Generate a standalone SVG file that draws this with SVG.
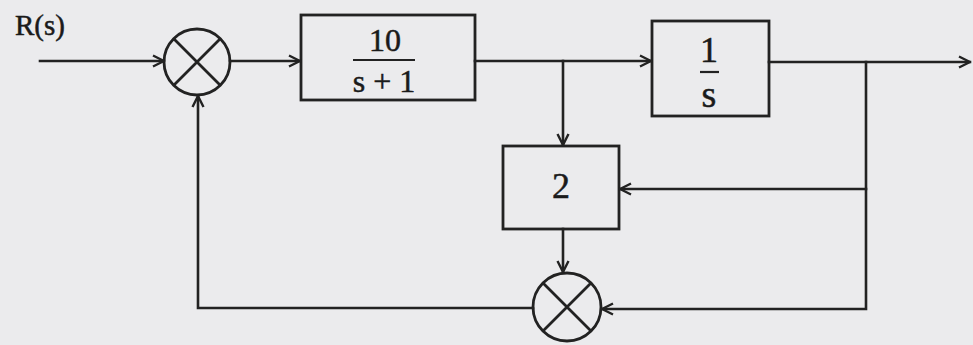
<svg xmlns="http://www.w3.org/2000/svg" width="973" height="345" viewBox="0 0 973 345">
<defs>
<style>
.ln{fill:none;stroke:#222;stroke-width:2.6;stroke-linecap:square}
.bx{fill:none;stroke:#222;stroke-width:2.8}
.sj{fill:none;stroke:#222;stroke-width:2.8}
.t{font-family:"Liberation Serif","Times New Roman",serif;fill:#1a1a1a;stroke:#1a1a1a;stroke-width:0.5;text-anchor:middle}
</style>
<marker id="ar" viewBox="0 0 14 14" refX="13" refY="7" markerWidth="14" markerHeight="14" markerUnits="userSpaceOnUse" orient="auto">
<path d="M2,1.5 L13,7 L2,12.5" fill="none" stroke="#222" stroke-width="2.4"/>
</marker>
</defs>
<rect width="973" height="345" fill="#ebebed"/>
<text class="t" x="40" y="35" font-size="29">R(s)</text>
<g id="sum1">
<circle class="sj" cx="197" cy="62" r="33"/>
<path class="sj" d="M174,39 L220,85 M220,39 L174,85"/>
</g>
<g id="g1">
<rect class="bx" x="301" y="15" width="174" height="85"/>
<text class="t" x="385" y="51" font-size="32">10</text>
<line x1="353" y1="60" x2="415" y2="60" stroke="#222" stroke-width="2.2"/>
<text class="t" x="384" y="92" font-size="32">s + 1</text>
</g>
<g id="g2">
<rect class="bx" x="652" y="21" width="117" height="95"/>
<text class="t" x="709" y="62" font-size="36">1</text>
<line x1="700" y1="72" x2="719" y2="72" stroke="#222" stroke-width="2.2"/>
<text class="t" x="709" y="107" font-size="38">s</text>
</g>
<g id="h">
<rect class="bx" x="503" y="146" width="116" height="83"/>
<text class="t" x="561" y="198" font-size="36">2</text>
</g>
<g id="sum2">
<circle class="sj" cx="567" cy="307" r="34"/>
<path class="sj" d="M543,283 L591,331 M591,283 L543,331"/>
</g>
<g id="connectors">
<path class="ln" d="M40,61 L164,61" marker-end="url(#ar)"/>
<path class="ln" d="M230,61 L300,61" marker-end="url(#ar)"/>
<path class="ln" d="M475,61 L651,61" marker-end="url(#ar)"/>
<path class="ln" d="M563,61 L563,145" marker-end="url(#ar)"/>
<path class="ln" d="M769,62 L970,62" marker-end="url(#ar)"/>
<path class="ln" d="M866,62 L866,309 L602,309" marker-end="url(#ar)"/>
<path class="ln" d="M866,189 L620,189" marker-end="url(#ar)"/>
<path class="ln" d="M563,229 L563,272" marker-end="url(#ar)"/>
<path class="ln" d="M533,308 L198,308 L198,96" marker-end="url(#ar)"/>
</g>
</svg>
